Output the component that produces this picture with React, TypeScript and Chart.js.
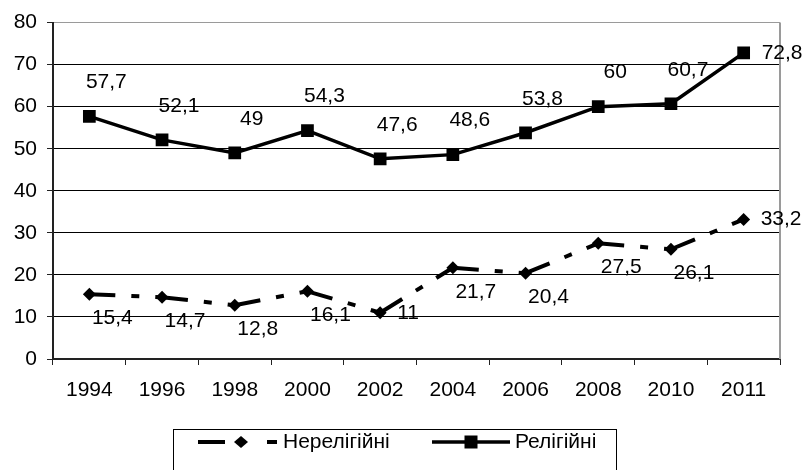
import React, { useEffect, useRef } from 'react';
import { Chart, registerables } from 'chart.js';

Chart.register(...registerables);

const categories = ['1994', '1996', '1998', '2000', '2002', '2004', '2006', '2008', '2010', '2011'];
const nonReligious = [15.4, 14.7, 12.8, 16.1, 11, 21.7, 20.4, 27.5, 26.1, 33.2];
const religious = [57.7, 52.1, 49, 54.3, 47.6, 48.6, 53.8, 60, 60.7, 72.8];
const seriesNames = ['Нерелігійні', 'Релігійні'];
const yMin = 0;
const yMax = 80;
const yStep = 10;

const FONT = '"Liberation Sans", Arial, Helvetica, sans-serif';
const FS = 21;
const fmt = (v: number) => String(v).replace('.', ',');

const labelPlugin = {
  id: 'valueLabels',
  afterDatasetsDraw(chart: any, _args: any, opts: any) {
    const ctx = chart.ctx;
    ctx.save();
    ctx.font = `${FS}px ${FONT}`;
    ctx.fillStyle = '#000';
    ctx.textBaseline = 'middle';
    chart.data.datasets.forEach((ds: any, di: number) => {
      const meta = chart.getDatasetMeta(di);
      const cfg = opts.placement[di];
      meta.data.forEach((pt: any, i: number) => {
        const v = ds.data[i];
        if (cfg.right.includes(i)) {
          ctx.textAlign = 'left';
          ctx.fillText(fmt(v), pt.x + cfg.sideDx, pt.y);
        } else {
          ctx.textAlign = 'center';
          ctx.fillText(fmt(v), pt.x + cfg.dx, pt.y + cfg.dy);
        }
      });
    });
    ctx.restore();
  },
};

const framePlugin = {
  id: 'frame',
  beforeDatasetsDraw(chart: any) {
    const { ctx, chartArea } = chart;
    ctx.save();
    ctx.strokeStyle = '#9a9a9a';
    ctx.lineWidth = 2;
    ctx.beginPath();
    ctx.moveTo(chartArea.right, chartArea.top);
    ctx.lineTo(chartArea.right, chartArea.bottom);
    ctx.stroke();
    ctx.restore();
  },
};

const legendPlugin = {
  id: 'boxLegend',
  afterDraw(chart: any) {
    const ctx = chart.ctx;
    const names = chart.data.datasets.map((d: any) => d.label);
    ctx.save();
    ctx.strokeStyle = '#000';
    ctx.lineWidth = 1;
    ctx.strokeRect(173.5, 429.5, 443, 60);
    const y = 442;
    ctx.strokeStyle = '#000';
    ctx.fillStyle = '#000';
    ctx.lineWidth = 4;
    ctx.lineCap = 'butt';
    ctx.setLineDash([27, 42, 10, 100]);
    ctx.beginPath();
    ctx.moveTo(198, y);
    ctx.lineTo(277, y);
    ctx.stroke();
    ctx.setLineDash([]);
    ctx.beginPath();
    ctx.moveTo(241 - 7, y);
    ctx.lineTo(241, y - 6);
    ctx.lineTo(241 + 7, y);
    ctx.lineTo(241, y + 6);
    ctx.closePath();
    ctx.fill();
    ctx.lineWidth = 3.5;
    ctx.beginPath();
    ctx.moveTo(432, y);
    ctx.lineTo(510, y);
    ctx.stroke();
    ctx.fillRect(471 - 6.5, y - 6.5, 13, 13);
    ctx.font = `${FS}px ${FONT}`;
    ctx.textAlign = 'left';
    ctx.textBaseline = 'middle';
    ctx.fillText(names[0], 283, y);
    ctx.fillText(names[1], 515, y);
    ctx.restore();
  },
};

export default function App() {
  const ref = useRef<HTMLCanvasElement | null>(null);

  useEffect(() => {
    if (!ref.current) return;
    const chart = new Chart(ref.current, {
      type: 'line',
      data: {
        labels: categories,
        datasets: [
          {
            label: seriesNames[0],
            data: nonReligious,
            borderColor: '#000',
            backgroundColor: '#000',
            borderWidth: 4,
            borderDash: [26, 16, 8, 16],
            borderCapStyle: 'butt',
            pointStyle: 'rectRot',
            pointRadius: 6.5,
            pointBorderWidth: 0,
            pointBackgroundColor: '#000',
            tension: 0,
            segment: {
              borderDashOffset: (c: any) => (c.p0DataIndex % 2) * 0.0001,
            },
          },
          {
            label: seriesNames[1],
            data: religious,
            borderColor: '#000',
            backgroundColor: '#000',
            borderWidth: 3.5,
            pointStyle: 'rect',
            pointRadius: 9,
            pointBorderWidth: 0,
            pointBackgroundColor: '#000',
            tension: 0,
          },
        ],
      },
      options: {
        animation: false,
        responsive: false,
        events: [],
        layout: { padding: { left: 0, top: 21, right: 27, bottom: 71 } },
        plugins: {
          legend: { display: false },
          tooltip: { enabled: false },
          valueLabels: {
            placement: [
              { dx: 23, dy: 24, right: [4, 9], sideDx: 17 },
              { dx: 17, dy: -34, right: [9], sideDx: 18 },
            ],
          },
        } as any,
        scales: {
          x: {
            type: 'category',
            offset: true,
            afterFit: (s: any) => { s.height = 40; },
            grid: {
              display: true,
              drawOnChartArea: false,
              drawTicks: true,
              tickLength: 6,
              offset: true,
              color: '#222',
              tickColor: '#222',
            },
            border: { display: true, color: '#222', width: 2 },
            ticks: {
              color: '#000',
              font: { family: FONT, size: FS },
              padding: 13,
              maxRotation: 0,
              autoSkip: false,
            },
          },
          y: {
            min: yMin,
            max: yMax,
            afterFit: (s: any) => { s.width = 53; },
            grid: {
              color: (c: any) => (c.tick && c.tick.value === yMax ? '#9a9a9a' : '#000'),
              lineWidth: 1,
              tickLength: 6,
              tickColor: '#222',
            },
            border: { display: true, color: '#222', width: 2 },
            ticks: {
              stepSize: yStep,
              color: '#000',
              font: { family: FONT, size: FS },
              padding: 10,
            },
          },
        },
      },
      plugins: [framePlugin, labelPlugin, legendPlugin],
    });
    return () => chart.destroy();
  }, []);

  return (
    <div style={{ position: 'fixed', left: 0, top: 0, width: 807, height: 470, background: '#fff' }}>
      <canvas ref={ref} width={807} height={470} style={{ display: 'block' }} />
    </div>
  );
}
